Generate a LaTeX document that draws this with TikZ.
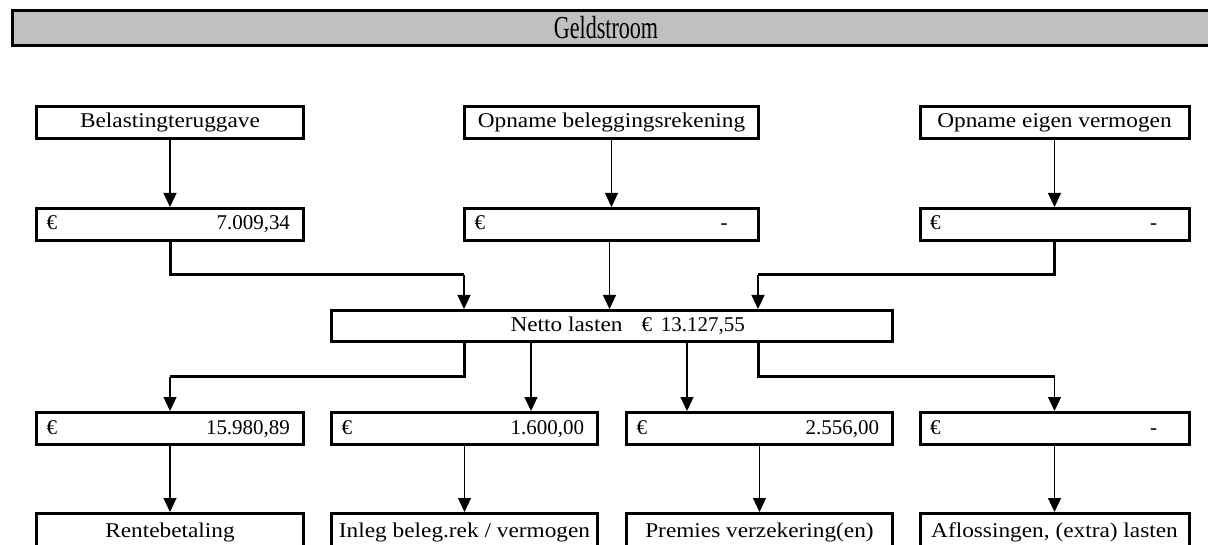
\documentclass[tikz,border=0pt]{standalone}
\usepackage{fontspec}
\setmainfont{Liberation Serif}
\newfontfamily\lbl{Liberation Serif}[FakeStretch=1.11]
\newfontfamily\ttl{Liberation Serif}[FakeStretch=0.69]
\usetikzlibrary{arrows.meta}
\definecolor{bargray}{HTML}{C0C0C0}
\tikzset{
  box/.style={draw, line width=3pt, inner sep=0pt, minimum height=32pt,
    text height=14pt, text depth=3pt, font=\fontsize{21}{25}\selectfont},
  lblbox/.style={box, font=\fontsize{21}{25}\selectfont\lbl},
  thk/.style={line width=3pt},
  arr/.style={line width=1.2pt, -{Triangle[length=14pt, width=13pt]}},
}
\newcommand{\eur}[3]{\hbox to #1pt{\hspace{10pt}€\hfill #2\hspace{#3pt}}}
\begin{document}
\begin{tikzpicture}[x=1pt, y=-1pt]
\useasboundingbox (0,0) rectangle (1208,545);
\clip (0,0) rectangle (1208,545);

% title bar
\node[draw, line width=3pt, fill=bargray, inner sep=0pt, minimum height=35pt,
      anchor=west, font=\fontsize{32}{36}\selectfont\ttl,
      text height=22pt, text depth=0pt] (T) at (10.5,28)
  {\hbox to 1204pt{\hfill Geldstroom\hfill\hspace{16pt}}};

% top row
\node[lblbox, minimum width=267pt] (A) at (170,122.5) {Belastingteruggave};
\node[lblbox, minimum width=294pt] (B) at (611.5,122.5) {Opname beleggingsrekening};
\node[lblbox, minimum width=269pt] (C) at (1054.5,122.5) {Opname eigen vermogen};

% euro row 1
\node[box] (eA) at (170,224.5) {\eur{267}{7.009,34}{13.5}};
\node[box] (eB) at (611.5,224.5) {\eur{294}{-}{31}};
\node[box] (eC) at (1054.5,224.5) {\eur{269}{-}{32}};

% netto
\node[box, minimum height=31pt] (N) at (612,326)
  {\hbox to 561pt{\hfill{\lbl Netto lasten}\hspace{19pt}€\hspace{9pt}13.127,55\hspace{147.5pt}}};

% euro row 2
\node[box] (r1) at (170,428.5) {\eur{267}{15.980,89}{13.5}};
\node[box] (r2) at (464.5,428.5) {\eur{266}{1.600,00}{13.5}};
\node[box] (r3) at (759.5,428.5) {\eur{266}{2.556,00}{13.5}};
\node[box] (r4) at (1054.5,428.5) {\eur{269}{-}{32}};

% bottom row
\node[lblbox, minimum width=267pt, minimum height=40pt, text height=14pt, text depth=7pt] (b1) at (170,533.5) {Rentebetaling};
\node[lblbox, minimum width=266pt, minimum height=40pt, text height=14pt, text depth=7pt] (b2) at (464.5,533.5) {Inleg beleg.rek / vermogen};
\node[lblbox, minimum width=266pt, minimum height=40pt, text height=14pt, text depth=7pt] (b3) at (759.5,533.5) {Premies verzekering(en)};
\node[lblbox, minimum width=269pt, minimum height=40pt, text height=14pt, text depth=7pt] (b4) at (1054.5,533.5) {Aflossingen, (extra) lasten};

% top arrows
\draw[arr] (A.south) -- (eA.north);
\draw[arr] (B.south) -- (eB.north);
\draw[arr] (C.south) -- (eC.north);

% into netto
\coordinate (cA) at (464,275);
\coordinate (cC) at (758,275);
\draw[thk] (eA.south) |- (cA);
\draw[arr] (cA) -- (cA |- N.north);
\draw[arr] ([xshift=-2pt]eB.south) -- ([xshift=-2pt]eB.south |- N.north);
\draw[thk] (eC.south) |- (cC);
\draw[arr] (cC) -- (cC |- N.north);

% out of netto
\coordinate (dA) at (170,377);
\coordinate (dD) at (1054.5,377);
\draw[thk] ([xshift=-148pt]N.south) |- (dA);
\draw[arr] (dA) -- (r1.north);
\draw[arr] ([xshift=-81pt]N.south) -- ([xshift=-81pt]N.south |- r2.north);
\draw[arr] ([xshift=75pt]N.south) -- ([xshift=75pt]N.south |- r3.north);
\draw[thk] ([xshift=146pt]N.south) |- (dD);
\draw[arr] (dD) -- (r4.north);

% to bottom row
\draw[arr] (r1.south) -- (b1.north);
\draw[arr] (r2.south) -- (b2.north);
\draw[arr] (r3.south) -- (b3.north);
\draw[arr] (r4.south) -- (b4.north);
\end{tikzpicture}
\end{document}
